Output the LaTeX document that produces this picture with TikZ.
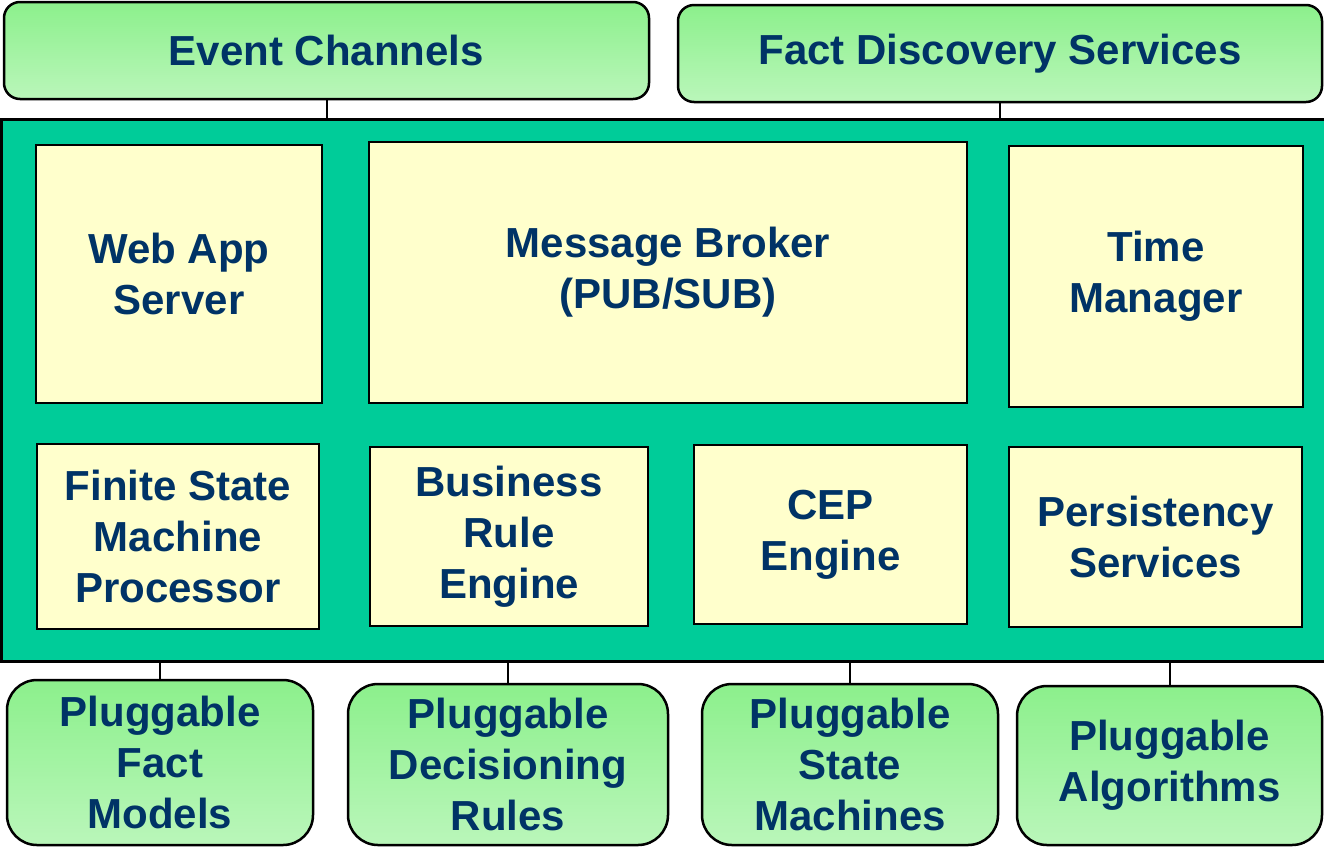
\documentclass[tikz,border=0pt]{standalone}
\usepackage{fontspec}
\setmainfont{Liberation Sans}
\definecolor{txt}{RGB}{0,51,102}
\definecolor{gtop}{RGB}{140,240,140}
\definecolor{gbot}{RGB}{186,246,186}
\definecolor{mainfill}{RGB}{0,204,153}
\definecolor{yfill}{RGB}{255,255,204}
\begin{document}
\begin{tikzpicture}[x=1pt,y=-1pt,
  lbl/.style={font=\fontsize{42}{51}\selectfont\bfseries, text=txt, align=center},
  gbox/.style={lbl, draw=black, line width=2.5pt, rounded corners=16pt, top color=gtop, bottom color=gbot, inner sep=0pt},
  pbox/.style={gbox, rounded corners=30pt},
  ybox/.style={lbl, draw=black, line width=2.5pt, fill=yfill, inner sep=0pt},
  conn/.style={draw=black, line width=2pt}]
\useasboundingbox (0,0) rectangle (1324,847);
% main container
\node[draw=black, line width=3pt, fill=mainfill, minimum width=1326pt, minimum height=542pt, inner sep=0pt] (main) at (664,390) {};
% top boxes
\node[gbox, minimum width=645pt, minimum height=97pt] (ec) at (326.5,50.5) {Event Channels};
\node[gbox, minimum width=644pt, minimum height=97pt] (fds) at (1000,53.5) {Fact Discovery Services};
% inner boxes
\node[ybox, minimum width=286pt, minimum height=258pt] (web) at (179,274) {Web App\\Server};
\node[ybox, minimum width=598pt, minimum height=261pt] (mb) at (668,272.5) {Message Broker\\(PUB/SUB)};
\node[ybox, minimum width=294pt, minimum height=261pt] (tm) at (1156,276.5) {Time\\Manager};
\node[ybox, minimum width=282pt, minimum height=185pt] (fsm) at (178,536.5) {Finite State\\Machine\\Processor};
\node[ybox, minimum width=278pt, minimum height=179pt] (bre) at (509,536.5) {Business\\Rule\\Engine};
\node[ybox, minimum width=273pt, minimum height=179pt] (cep) at (830.5,534.5) {CEP\\Engine};
\node[ybox, minimum width=293pt, minimum height=180pt] (ps) at (1155.5,537) {Persistency\\Services};
% bottom boxes
\node[pbox, minimum width=306pt, minimum height=165pt] (pfm) at (160,762.5) {Pluggable\\Fact\\Models};
\node[pbox, minimum width=320pt, minimum height=161pt] (pdr) at (508,764.5) {Pluggable\\Decisioning\\Rules};
\node[pbox, minimum width=296pt, minimum height=161pt] (psm) at (850,764.5) {Pluggable\\State\\Machines};
\node[pbox, minimum width=305pt, minimum height=159pt] (pa) at (1169.5,765.5) {Pluggable\\Algorithms};
% connectors
\draw[conn] (ec.south) -- (ec.south |- main.north);
\draw[conn] (fds.south) -- (fds.south |- main.north);
\draw[conn] (pfm.north) -- (pfm.north |- main.south);
\draw[conn] (pdr.north) -- (pdr.north |- main.south);
\draw[conn] (psm.north) -- (psm.north |- main.south);
\draw[conn] (pa.north) -- (pa.north |- main.south);
\end{tikzpicture}
\end{document}
